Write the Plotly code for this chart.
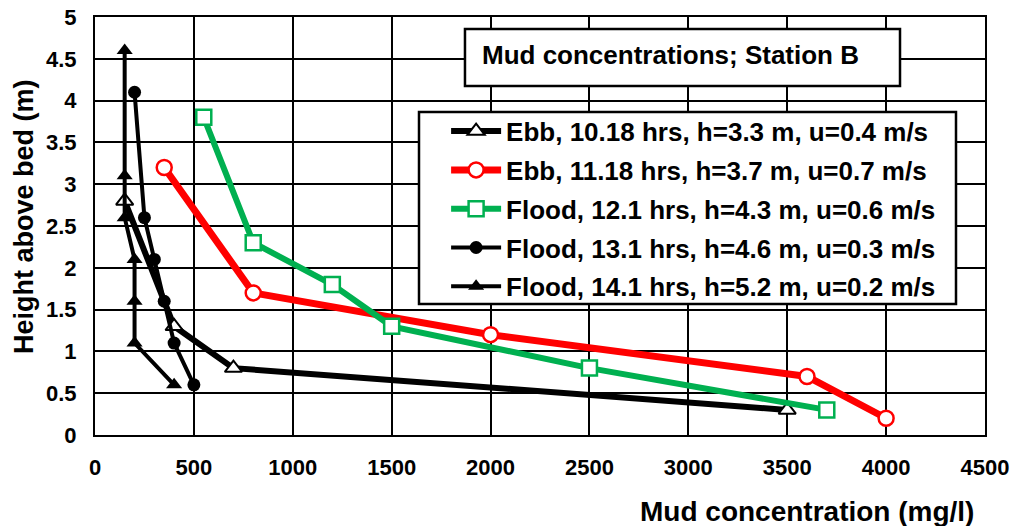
import plotly.graph_objects as go

# ---- data ----
ebb1018_conc = [3500, 700, 400, 150]
ebb1018_h = [0.3, 0.8, 1.3, 2.8]

ebb1118_conc = [4000, 3600, 2000, 800, 350]
ebb1118_h = [0.2, 0.7, 1.2, 1.7, 3.2]

fl121_conc = [3700, 2500, 1500, 1200, 800, 550]
fl121_h = [0.3, 0.8, 1.3, 1.8, 2.3, 3.8]

fl131_conc = [500, 400, 350, 300, 250, 200]
fl131_h = [0.6, 1.1, 1.6, 2.1, 2.6, 4.1]

fl141_conc = [400, 200, 200, 200, 150, 150, 150]
fl141_h = [0.6, 1.1, 1.6, 2.1, 2.6, 3.1, 4.6]

names = [
    "Ebb, 10.18 hrs, h=3.3 m, u=0.4 m/s",
    "Ebb, 11.18 hrs, h=3.7 m, u=0.7 m/s",
    "Flood, 12.1 hrs, h=4.3 m, u=0.6 m/s",
    "Flood, 13.1 hrs, h=4.6 m, u=0.3 m/s",
    "Flood, 14.1 hrs, h=5.2 m, u=0.2 m/s",
]

x_ticks = [0, 500, 1000, 1500, 2000, 2500, 3000, 3500, 4000, 4500]
y_ticks = [0, 0.5, 1, 1.5, 2, 2.5, 3, 3.5, 4, 4.5, 5]

FONT = "Liberation Sans, Arial, sans-serif"
RED = "#FF0000"
GREEN = "#00B050"

fig = go.Figure()

fig.add_trace(go.Scatter(
    x=ebb1018_conc, y=ebb1018_h, name=names[0], mode="lines+markers", legendgroup="a",
    line=dict(color="black", width=6),
    marker=dict(symbol="triangle-up", size=15, color="white", line=dict(color="black", width=2)),
))
fig.add_trace(go.Scatter(
    x=ebb1118_conc, y=ebb1118_h, name=names[1], mode="lines+markers", legendgroup="b",
    line=dict(color=RED, width=7),
    marker=dict(symbol="circle", size=15, color="white", line=dict(color=RED, width=2.5)),
))
fig.add_trace(go.Scatter(
    x=fl121_conc, y=fl121_h, name=names[2], mode="lines+markers", legendgroup="c",
    line=dict(color=GREEN, width=6),
    marker=dict(symbol="square", size=15, color="white", line=dict(color=GREEN, width=2.5)),
))
fig.add_trace(go.Scatter(
    x=fl131_conc, y=fl131_h, name=names[3], mode="lines+markers", legendgroup="d",
    line=dict(color="black", width=4),
    marker=dict(symbol="circle", size=13, color="black"),
))
fig.add_trace(go.Scatter(
    x=fl141_conc, y=fl141_h, name=names[4], mode="lines+markers", legendgroup="e",
    line=dict(color="black", width=4),
    marker=dict(symbol="triangle-up", size=14, color="black"),
))

axis_common = dict(
    showgrid=True, gridcolor="black", gridwidth=1.5,
    showline=True, linecolor="black", linewidth=2, mirror=True,
    zeroline=False, ticks="", automargin=False,
    tickfont=dict(family=FONT, size=22, color="black", weight="bold"),
)

fig.update_layout(
    template="none",
    width=1013, height=526,
    margin=dict(l=95, r=28, t=17, b=91, autoexpand=False),
    paper_bgcolor="white", plot_bgcolor="white",
    font=dict(family=FONT, color="black"),
    xaxis=dict(range=[0, 4500], tickvals=x_ticks, ticktext=[str(v) for v in x_ticks],
               ticklabelstandoff=12, **axis_common),
    yaxis=dict(range=[0, 5], tickvals=y_ticks, ticktext=[f"{v:g}" for v in y_ticks],
               ticklabelstandoff=12, **axis_common),
    legend=dict(
        x=0.3945, y=0.783, xanchor="left", yanchor="top",
        bgcolor="rgba(0,0,0,0)", borderwidth=0,
        font=dict(family=FONT, size=26, color="black", weight="bold"),
        itemwidth=50, tracegroupgap=2, traceorder="grouped",
    ),
    showlegend=True,
)

# legend frame
fig.add_shape(type="rect", xref="paper", yref="paper",
              x0=(419 - 95) / 890, x1=(956 - 95) / 890,
              y0=(435 - 304) / 418, y1=(435 - 112) / 418,
              line=dict(color="black", width=2.5), fillcolor="white", layer="above")

# title box
fig.add_shape(type="rect", xref="paper", yref="paper",
              x0=0.4157, x1=0.9045, y0=0.835, y1=0.971,
              line=dict(color="black", width=2.5), fillcolor="white", layer="above")
fig.add_annotation(text="Mud concentrations; Station B", xref="paper", yref="paper",
                   x=0.647, y=0.909, xanchor="center", yanchor="middle", showarrow=False,
                   font=dict(family=FONT, size=26, color="black", weight="bold"))

# axis titles
fig.add_annotation(text="Mud concentration (mg/l)", xref="paper", yref="paper",
                   x=0.8, y=-0.184, xanchor="center", yanchor="middle", showarrow=False,
                   font=dict(family=FONT, size=28, color="black", weight="bold"))
fig.add_annotation(text="Height above bed (m)", xref="paper", yref="paper",
                   x=-0.0798, y=0.524, xanchor="center", yanchor="middle", showarrow=False,
                   textangle=-90,
                   font=dict(family=FONT, size=27, color="black", weight="bold"))

fig.write_html("out.html")
